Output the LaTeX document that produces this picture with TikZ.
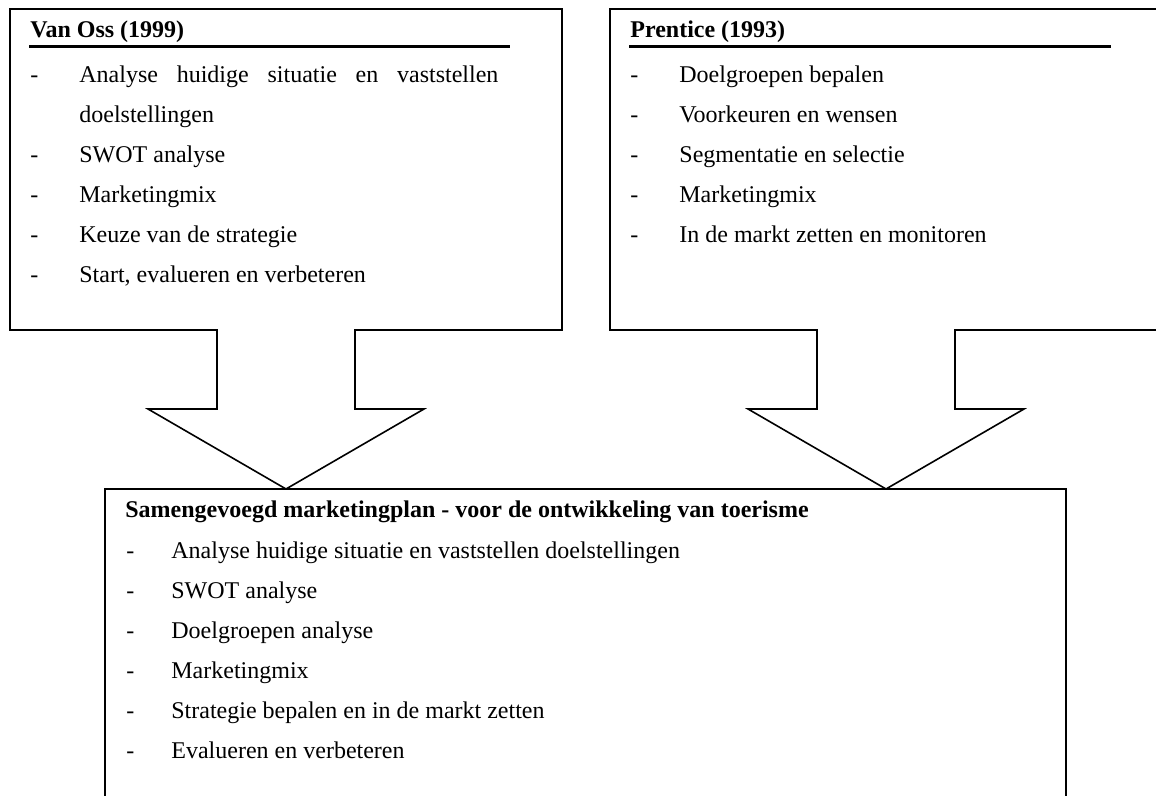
\documentclass[tikz,border=0pt]{standalone}
\usepackage{fontspec}
\setmainfont{Liberation Serif}
\usetikzlibrary{positioning}
\tikzset{
	kader/.style = {line width=0.8pt, line join=miter},
	onderlijn/.style = {line width=1.5pt},
	tekst/.style = {anchor=base west, inner sep=0pt, font=\fontsize{12}{20}\selectfont},
	kop/.style = {tekst, font=\fontsize{12}{20}\selectfont\bfseries},
	streep/.style = {tekst},
	punt/.style = {tekst, align=left},
	lang/.style = {punt, text width=209.5pt, align=justify}
}

\begin{document}
\begin{tikzpicture}[x=0.5pt, y=-0.5pt]
		\useasboundingbox (0,0) rectangle (1156,796);
		% kaders met blokpijlen
		\draw [kader] (217,330) -- (10,330) -- (10,9) -- (562,9) -- (562,330) -- (355,330)
			-- (355,409) -- (424,409) -- (286,489) -- (148,409) -- (217,409) -- cycle;
		\draw [kader] (817,330) -- (610,330) -- (610,9) -- (1170,9) -- (1170,330) -- (955,330)
			-- (955,409) -- (1024,409) -- (886,489) -- (748,409) -- (817,409) -- cycle;
		\draw [kader] (105,489) rectangle (1066,820);

		% Van Oss
		\node [kop] (vanoss) at (30,38) {Van Oss (1999)};
		\draw [onderlijn] (29,47) -- (510,47);
		\node [streep] (vd0) at (30,83) {-};
		\node [lang] (vp0) at (79,83) {Analyse huidige situatie en vaststellen \mbox{doelstellingen}};
		\foreach \y/\txt [count=\i] in {163/SWOT analyse, 203/Marketingmix, 243/Keuze van de strategie, {283/Start, evalueren en verbeteren}}{
			\node [streep] (vd\i) at (30,\y) {-};
			\node [punt] (vp\i) at (79,\y) {\txt};
		}

		% Prentice
		\node [kop] (prentice) at (630,38) {Prentice (1993)};
		\draw [onderlijn] (629,47) -- (1111,47);
		\foreach \y/\txt [count=\i] in {83/Doelgroepen bepalen, 123/Voorkeuren en wensen, 163/Segmentatie en selectie, 203/Marketingmix, 243/In de markt zetten en monitoren}{
			\node [streep] (pd\i) at (630,\y) {-};
			\node [punt] (pp\i) at (679,\y) {\txt};
		}

		% samengevoegd
		\node [kop] (samen) at (125,517) {Samengevoegd marketingplan - voor de ontwikkeling van toerisme};
		\foreach \y/\txt [count=\i] in {558/Analyse huidige situatie en vaststellen doelstellingen, 598/SWOT analyse, 638/Doelgroepen analyse, 678/Marketingmix, 718/Strategie bepalen en in de markt zetten, 758/Evalueren en verbeteren}{
			\node [streep] (sd\i) at (126,\y) {-};
			\node [punt] (sp\i) at (171,\y) {\txt};
		}
\end{tikzpicture}
\end{document}
